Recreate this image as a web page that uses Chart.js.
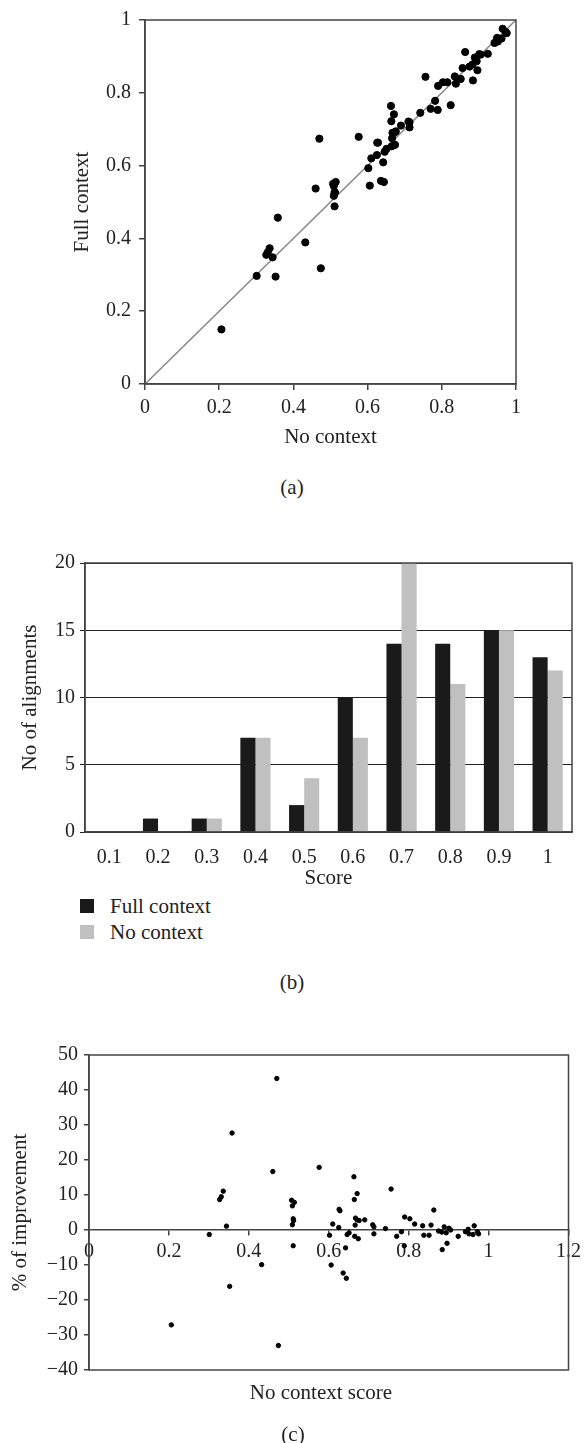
<!DOCTYPE html>
<html>
<head>
<meta charset="utf-8">
<script src="https://cdn.jsdelivr.net/npm/chart.js@4.4.1/dist/chart.umd.min.js"></script>
<style>
  body { margin: 0; background: #fff; font-family: "Liberation Serif", serif; color: #222; }
  .wrap { position: relative; width: 586px; height: 1443px; overflow: hidden; }
  canvas { position: absolute; left: 0; }
  .lbl { position: absolute; font-size: 21px; line-height: 24px; white-space: nowrap; transform: translate(-50%, -50%); }
  .key { position: absolute; left: 80px; width: 14px; height: 14px; }
  .keytxt { position: absolute; left: 110px; font-size: 21px; line-height: 24px; transform: translateY(-50%); }
</style>
</head>
<body>
<div class="wrap">
  <canvas id="graficoA" width="586" height="460" style="top:0"></canvas>
  <div class="lbl" style="left:292px; top:487px">(a)</div>

  <canvas id="graficoB" width="586" height="372" style="top:520px"></canvas>
  <div class="key" id="keyFull" style="top:899px"></div>
  <div class="keytxt" style="top:906px">Full context</div>
  <div class="key" id="keyNo" style="top:925px"></div>
  <div class="keytxt" style="top:932px">No context</div>
  <div class="lbl" style="left:292px; top:982px">(b)</div>

  <canvas id="graficoC" width="586" height="358" style="top:1030px"></canvas>
  <div class="lbl" style="left:321px; top:1392px">No context score</div>
  <div class="lbl" style="left:293px; top:1434px">(c)</div>
</div>

<script>
// (a) puntos: no context vs full context
const noContexto = [0.358, 0.460, 0.576, 0.336, 0.331, 0.327, 0.344, 0.301, 0.206, 0.352, 0.432,
  0.507, 0.514, 0.509, 0.511, 0.512, 0.509, 0.511, 0.626, 0.628, 0.610, 0.602, 0.625, 0.606,
  0.636, 0.644, 0.642, 0.646, 0.651, 0.663, 0.664, 0.671, 0.667, 0.671, 0.666, 0.665, 0.674,
  0.676, 0.690, 0.710, 0.713, 0.713, 0.742, 0.756, 0.770, 0.782, 0.789, 0.790, 0.803, 0.815,
  0.835, 0.838, 0.851, 0.856, 0.863, 0.875, 0.883, 0.889, 0.884, 0.896, 0.894, 0.901, 0.905,
  0.924, 0.942, 0.949, 0.951, 0.964, 0.961, 0.972, 0.975, 0.470, 0.474, 0.824];
const fullContexto = [0.457, 0.537, 0.679, 0.373, 0.362, 0.355, 0.348, 0.297, 0.150, 0.295, 0.389,
  0.550, 0.555, 0.544, 0.527, 0.526, 0.517, 0.488, 0.663, 0.663, 0.620, 0.593, 0.629, 0.545,
  0.558, 0.555, 0.609, 0.638, 0.646, 0.764, 0.722, 0.741, 0.690, 0.690, 0.675, 0.653, 0.657,
  0.694, 0.710, 0.721, 0.719, 0.705, 0.745, 0.844, 0.756, 0.778, 0.753, 0.819, 0.829, 0.829,
  0.845, 0.825, 0.838, 0.868, 0.912, 0.872, 0.878, 0.897, 0.834, 0.862, 0.887, 0.906, 0.905,
  0.907, 0.937, 0.951, 0.941, 0.976, 0.949, 0.967, 0.964, 0.674, 0.318, 0.766];
const diagonal = [{ x: 0, y: 0 }, { x: 1, y: 1 }];

// (b) histograma
const scores = ['0.1', '0.2', '0.3', '0.4', '0.5', '0.6', '0.7', '0.8', '0.9', '1'];
const alineFull = [0, 1, 1, 7, 2, 10, 14, 14, 15, 13];
const alineNo = [0, 0, 1, 7, 4, 7, 20, 11, 15, 12];

// (c) % de mejora
const scoreC = [0.358, 0.460, 0.576, 0.336, 0.331, 0.327, 0.344, 0.301, 0.206, 0.352, 0.432,
  0.507, 0.514, 0.509, 0.511, 0.512, 0.509, 0.511, 0.626, 0.628, 0.610, 0.602, 0.625, 0.606,
  0.636, 0.644, 0.642, 0.646, 0.651, 0.663, 0.664, 0.671, 0.667, 0.671, 0.666, 0.665, 0.674,
  0.676, 0.690, 0.710, 0.713, 0.713, 0.742, 0.756, 0.770, 0.782, 0.789, 0.790, 0.803, 0.815,
  0.835, 0.838, 0.851, 0.856, 0.863, 0.875, 0.883, 0.889, 0.884, 0.896, 0.894, 0.901, 0.905,
  0.924, 0.942, 0.949, 0.951, 0.964, 0.961, 0.972, 0.975, 0.470, 0.474];
const mejora = [27.7, 16.7, 17.9, 11.1, 9.5, 8.7, 1.1, -1.3, -27.1, -16.1, -9.9,
  8.5, 7.9, 6.9, 3.2, 2.7, 1.5, -4.5, 5.9, 5.5, 1.7, -1.5, 0.7, -10.0,
  -12.3, -13.8, -5.1, -1.3, -0.8, 15.2, 8.7, 10.4, 3.4, 2.9, 1.4, -1.8, -2.5,
  2.7, 2.9, 1.5, 0.9, -1.1, 0.4, 11.7, -1.8, -0.5, -4.5, 3.7, 3.2, 1.7,
  1.2, -1.5, -1.5, 1.4, 5.7, -0.3, -0.6, 0.9, -5.6, -3.8, -0.8, 0.5, 0.0,
  -1.8, -0.5, 0.2, -1.1, 1.2, -1.3, -0.5, -1.1, 43.3, -33.0];

const colorFull = '#1a1a1a';
const colorNo = '#c0c0c0';
document.getElementById('keyFull').style.background = colorFull;
document.getElementById('keyNo').style.background = colorNo;

Chart.defaults.font.family = '"Liberation Serif", serif';
Chart.defaults.font.size = 20;
Chart.defaults.color = '#222';
Chart.defaults.animation = false;

// marco alrededor del area del grafico
const marco = {
    id: 'marco',
    afterDatasetsDraw(chart) {
        const { ctx, chartArea: a } = chart;
        ctx.save();
        ctx.strokeStyle = '#444';
        ctx.lineWidth = 1.5;
        ctx.strokeRect(a.left, a.top, a.right - a.left, a.bottom - a.top);
        ctx.restore();
    }
};

const ejeTicks = { display: true, drawOnChartArea: false, drawTicks: true, tickLength: 6, color: '#444', lineWidth: 1.5 };
const tituloFont = { size: 21 };
const numero = v => String(Math.round(v * 10) / 10).replace('-', '\u2212');

window.addEventListener('DOMContentLoaded', () => {
    // (a)
    new Chart(document.getElementById('graficoA'), {
        type: 'scatter',
        data: {
            datasets: [{
                data: noContexto.map((x, i) => ({ x, y: fullContexto[i] })),
                backgroundColor: '#000',
                borderColor: '#000',
                pointRadius: 3.6,
                order: 0
            }, {
                type: 'line',
                data: diagonal,
                borderColor: '#8a8a8a',
                borderWidth: 1.6,
                pointRadius: 0,
                order: 1
            }]
        },
        options: {
            responsive: false,
            devicePixelRatio: 1,
            layout: { padding: { top: 14, right: 70, bottom: 6, left: 0 } },
            plugins: { legend: { display: false }, tooltip: { enabled: false } },
            scales: {
                x: {
                    type: 'linear', min: 0, max: 1,
                    ticks: { stepSize: 0.2, padding: 6, callback: numero },
                    grid: ejeTicks,
                    border: { color: '#444', width: 1.5 },
                    title: { display: true, text: 'No context', font: tituloFont, padding: { bottom: 4 } },
                    afterFit: s => { s.height = 70; }
                },
                y: {
                    type: 'linear', min: 0, max: 1,
                    ticks: { stepSize: 0.2, padding: 8, callback: numero },
                    grid: ejeTicks,
                    border: { color: '#444', width: 1.5 },
                    title: { display: true, text: 'Full context', font: tituloFont, padding: { top: 70 } },
                    afterFit: s => { s.width = 145; }
                }
            }
        },
        plugins: [marco]
    });

    // (b)
    new Chart(document.getElementById('graficoB'), {
        type: 'bar',
        data: {
            labels: scores,
            datasets: [{
                label: 'Full context',
                data: alineFull,
                backgroundColor: colorFull,
                categoryPercentage: 0.62,
                barPercentage: 1.0
            }, {
                label: 'No context',
                data: alineNo,
                backgroundColor: colorNo,
                categoryPercentage: 0.62,
                barPercentage: 1.0
            }]
        },
        options: {
            responsive: false,
            devicePixelRatio: 1,
            layout: { padding: { top: 43, right: 14, bottom: 0, left: 0 } },
            plugins: { legend: { display: false }, tooltip: { enabled: false } },
            scales: {
                x: {
                    grid: { display: false },
                    ticks: { padding: 6 },
                    border: { color: '#444', width: 1.5 },
                    title: { display: true, text: 'Score', font: tituloFont, padding: { bottom: 1 } },
                    afterFit: s => { s.height = 60; }
                },
                y: {
                    min: 0, max: 20,
                    ticks: { stepSize: 5, padding: 5 },
                    grid: { color: '#222', lineWidth: 1, drawTicks: true, tickLength: 5 },
                    border: { color: '#444', width: 1.5 },
                    title: { display: true, text: 'No of alignments', font: tituloFont, padding: { top: 18 } },
                    afterFit: s => { s.width = 85; }
                }
            }
        },
        plugins: [marco]
    });

    // (c)
    new Chart(document.getElementById('graficoC'), {
        type: 'scatter',
        data: {
            datasets: [{
                data: scoreC.map((x, i) => ({ x, y: mejora[i] })),
                backgroundColor: '#000',
                borderColor: '#000',
                pointRadius: 2.2
            }]
        },
        options: {
            responsive: false,
            devicePixelRatio: 1,
            layout: { padding: { top: 25, right: 11, bottom: 0, left: 0 } },
            plugins: { legend: { display: false }, tooltip: { enabled: false } },
            scales: {
                x: {
                    type: 'linear', min: 0, max: 1.2,
                    position: { y: 0 },
                    ticks: { stepSize: 0.2, padding: 5, callback: numero },
                    grid: { ...ejeTicks, tickLength: 5 },
                    border: { color: '#444', width: 1.5 }
                },
                y: {
                    type: 'linear', min: -40, max: 50,
                    ticks: { stepSize: 10, padding: 6, callback: numero },
                    grid: { ...ejeTicks, tickLength: 5 },
                    border: { color: '#444', width: 1.5 },
                    title: { display: true, text: '% of improvement', font: tituloFont, padding: { top: 8 } },
                    afterFit: s => { s.width = 89; }
                }
            }
        },
        plugins: [marco]
    });
});
</script>
</body>
</html>
